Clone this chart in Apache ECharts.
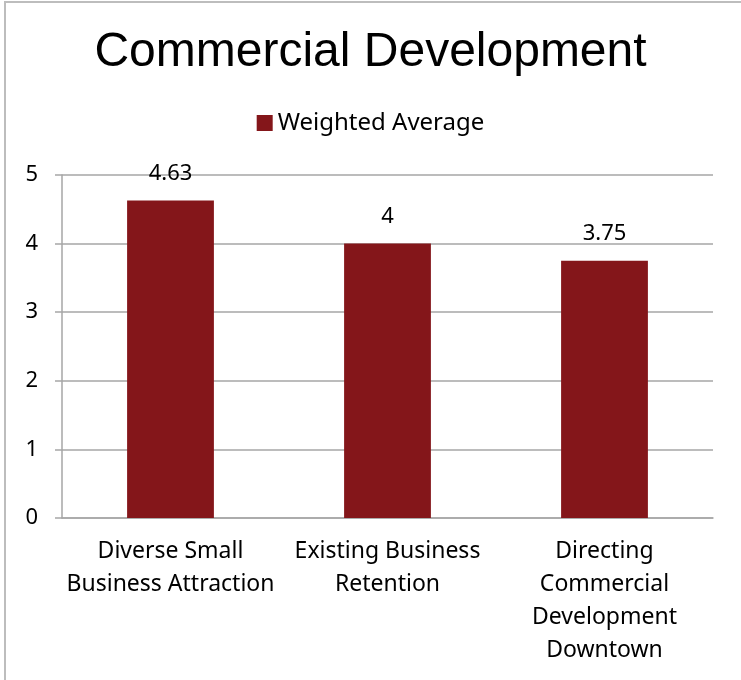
<!DOCTYPE html>
<html style="height: 100%">
<head>
    <meta charset="utf-8">
    <title>Commercial Development</title>
    <script src="https://cdn.jsdelivr.net/npm/echarts@6/dist/echarts.min.js"></script>
</head>
<body style="height: 100%; margin: 0">
    <div id="container" style="width: 741px; height: 680px"></div>
    <div style="position: absolute; left: 4px; top: 1px; width: 740px; height: 690px; border-left: 2px solid #bdbdbd; border-top: 2px solid #bdbdbd; pointer-events: none"></div>

    <script type="text/javascript">
        var categories = ['Diverse Small\nBusiness Attraction', 'Existing Business\nRetention', 'Directing\nCommercial\nDevelopment\nDowntown'];
        var seriesName = 'Weighted Average';
        var values = [4.63, 4, 3.75];
        var yTicks = [0, 1, 2, 3, 4, 5];

        var bodyFont = '"Noto Sans", "Open Sans", sans-serif';

        var myChart = echarts.init(document.getElementById('container'));
        var option = {
            title: {
                text: 'Commercial Development',
                left: 'center',
                top: 24,
                textStyle: {
                    fontFamily: '"Liberation Sans", Arial, sans-serif',
                    fontSize: 48,
                    fontWeight: 'normal',
                    color: '#000'
                }
            },
            legend: {
                top: 106,
                left: 'center',
                icon: 'rect',
                itemWidth: 16,
                itemHeight: 16,
                itemGap: 7,
                data: [seriesName],
                textStyle: {
                    fontFamily: bodyFont,
                    fontSize: 24,
                    color: '#000'
                }
            },
            grid: {
                left: 62,
                right: 28,
                top: 175,
                bottom: 162
            },
            xAxis: {
                type: 'category',
                data: categories,
                axisLine: { lineStyle: { color: '#a6a6a6', width: 1.5 } },
                axisTick: { length: 7, lineStyle: { color: '#a6a6a6', width: 1.5 } },
                axisLabel: {
                    margin: 17,
                    lineHeight: 33,
                    fontFamily: bodyFont,
                    fontSize: 23,
                    color: '#000',
                    interval: 0
                }
            },
            yAxis: {
                type: 'value',
                min: yTicks[0],
                max: yTicks[yTicks.length - 1],
                interval: 1,
                axisLine: { show: true, lineStyle: { color: '#a6a6a6', width: 1.5 } },
                axisTick: { show: true, length: 7, lineStyle: { color: '#a6a6a6', width: 1.5 } },
                splitLine: { lineStyle: { color: '#a6a6a6', width: 1.5 } },
                axisLabel: {
                    margin: 24,
                    fontFamily: bodyFont,
                    fontSize: 22,
                    color: '#000'
                }
            },
            series: [{
                name: seriesName,
                type: 'bar',
                data: values,
                barWidth: '40%',
                itemStyle: {
                    color: '#84161a'
                },
                label: {
                    show: true,
                    position: 'top',
                    distance: 16,
                    fontFamily: bodyFont,
                    fontSize: 22,
                    color: '#000'
                }
            }]
        };
        myChart.setOption(option);
    </script>
</body>
</html>
